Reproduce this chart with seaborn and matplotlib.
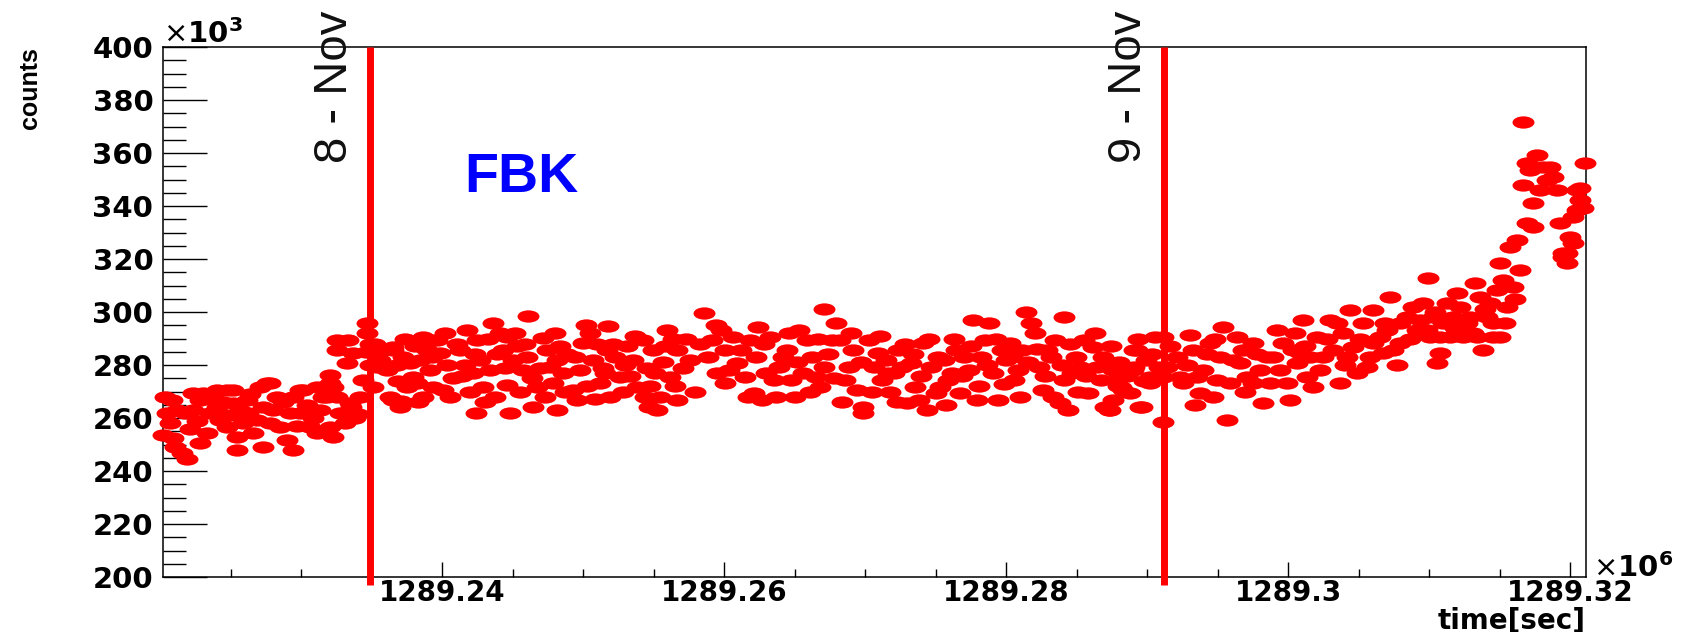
import numpy as np
import pandas as pd
import matplotlib
matplotlib.use("Agg")
import matplotlib.pyplot as plt
import seaborn as sns
from matplotlib.path import Path
from matplotlib.markers import MarkerStyle
from matplotlib.transforms import Affine2D
from matplotlib.ticker import MultipleLocator, FuncFormatter

# --- data ---
# time in ks after 1289.22e6 s, counts in units of 10^3
T0 = 1289.22  # x10^6 s

# before 8-Nov
t_before = [0.35, 0.85, 0.21, 0.92, 1.06, 1.56, 1.91, 0.50, 1.21, 2.34, 2.84, 3.05, 3.33, 2.84,
            4.04, 4.04, 4.25, 4.75, 5.18, 5.18, 5.46, 5.46, 6.17, 6.24, 6.59, 6.88, 7.30, 7.09,
            7.59, 8.01, 8.30, 8.51, 9.00, 9.43, 9.43, 9.93, 10.14, 10.64, 11.13, 11.34, 11.56,
            12.05, 12.27, 12.55, 12.27, 13.47, 13.83, 12.05, 12.55, 12.55, 13.33, 13.68, 13.26,
            14.39, 14.68, 14.68, 2.34, 4.75, 7.80, 9.93, 11.84, 11.13, 12.05, 13.54, 14.00,
            0.71, 1.77, 2.13, 2.62, 3.55, 3.76, 4.47, 4.96, 5.67, 5.88, 6.38, 7.30, 7.80, 8.72,
            9.22, 9.71, 10.42, 10.85, 12.76, 13.12, 14.18, 14.61, 14.89, 14.89]
c_before = [268.0, 266.8, 253.6, 252.4, 249.2, 246.8, 244.5, 261.9, 263.0, 263.0, 266.8, 269.4, 254.3, 250.6,
            270.6, 264.2, 259.2, 256.6, 270.6, 265.7, 252.8, 248.0, 266.8, 261.9, 254.3, 259.2, 249.2, 271.7,
            273.2, 263.0, 268.0, 256.6, 251.7, 248.0, 268.0, 261.9, 270.6, 256.6, 254.3, 263.0, 268.0,
            256.6, 252.8, 268.0, 271.7, 265.7, 259.9, 276.2, 285.7, 289.4, 289.4, 284.5, 280.8,
            274.3, 295.8, 292.0, 269.3, 270.6, 273.1, 270.6, 268.0, 271.8, 273.1, 264.0, 261.5,
            258, 262, 256, 259, 262, 268, 266, 261, 263, 258, 269, 264, 258, 266,
            262, 257, 265, 260, 262, 258, 268, 285, 280, 288]

# 8-Nov to the middle of the day
t_mid1 = [15.39, 15.10, 15.81, 16.09, 16.52, 17.02, 16.52, 17.23, 17.73, 18.65, 19.36, 18.93, 18.22,
          17.51, 18.65, 19.85, 20.06, 15.60, 16.52, 16.31, 17.09, 17.58, 17.94, 19.64, 18.43, 19.36,
          20.35, 21.27, 21.77, 22.48, 22.69, 22.19, 22.90, 23.04, 23.61, 24.11, 24.60, 24.32, 25.03,
          24.60, 24.82, 25.74, 26.09, 26.45, 26.73, 27.15, 27.44, 27.65, 27.86, 28.36, 28.57, 29.28,
          29.57, 29.99, 30.49, 30.70, 31.20, 31.76, 31.69, 31.91, 32.61, 33.11, 33.54, 33.82, 34.24,
          34.95, 35.24, 35.45, 35.95, 36.16, 36.66, 36.66,
          16.80, 18.08, 19.14, 20.77, 21.06, 21.62, 21.98, 23.40, 23.89, 25.31, 25.52, 26.02, 26.94,
          28.15, 28.86, 29.78, 30.27, 30.98, 31.41, 32.26, 32.83, 33.32, 34.53, 34.74, 35.66, 36.37,
          22.40, 28.15, 34.67,
          15.24, 16.87, 17.37, 18.29, 19.28, 20.21, 20.56, 21.41, 22.33, 23.26, 23.75, 24.46, 25.17,
          25.88, 26.37, 27.30, 28.01, 28.71, 29.42, 30.20, 30.84, 31.55, 32.12, 32.97, 33.68, 34.39,
          35.10, 35.80, 36.51]
c_mid1 = [279.3, 271.7, 285.7, 278.1, 266.8, 264.2, 286.8, 283.0, 280.8, 290.6, 289.4, 285.7, 273.2,
          271.7, 268.0, 284.5, 270.6, 281.9, 285.7, 268.0, 266.5, 273.5, 275.6, 289.5, 281.9, 271.8,
          280.0, 285.7, 293.3, 289.5, 281.9, 276.9, 271.8, 266.2, 295.8, 292.0, 290.7, 285.7, 281.9,
          272.5, 261.7, 278.1, 298.6, 264.3, 271.8, 290.1, 285.7, 279.4, 273.1, 287.0, 276.9, 270.6,
          266.8, 288.2, 292.0, 281.9, 273.1, 294.8, 285.7, 268.0, 275.6, 287.0, 281.9, 271.8, 289.5,
          285.7, 263.0, 268.0, 293.3, 275.6, 285.7, 266.8,
          280, 287, 278, 275, 288, 280, 270, 278, 284, 287, 270, 283, 279,
          282, 284, 278, 272, 288, 279, 283, 270, 276, 279, 272, 281, 290,
          262, 263, 264,
          288, 274, 290, 266, 283, 292, 268, 276, 284, 290, 268, 279, 292,
          288, 275, 268, 292, 270, 283, 295, 267, 277, 288, 280, 291, 268,
          277, 287, 272]

# middle of 8-Nov up to 9-Nov
t_mid2 = [38.57, 39.14, 39.77, 40.06, 39.49, 40.06, 40.91, 41.48, 42.40, 42.11, 42.68, 43.25, 43.53,
          44.17, 44.45, 45.02, 45.31, 45.87, 46.23, 46.51, 47.08, 47.08, 47.93, 48.21, 48.57, 49.13,
          49.42, 49.84, 49.84, 50.27, 50.91, 51.19, 51.76, 52.32, 52.61, 52.96, 53.53, 54.10, 54.38,
          54.66, 55.02, 55.59, 55.87, 56.44, 56.72, 57.36, 57.64, 57.93, 58.49, 58.78, 59.06, 59.41,
          59.98, 60.27, 60.55, 61.12, 61.40, 61.75, 62.04, 62.32, 62.60, 63.17, 63.46, 63.81, 64.09,
          64.38, 64.66, 64.94, 65.51, 65.80, 66.43, 67.00, 67.28, 67.57, 67.85, 68.13, 68.77, 69.06,
          69.62, 69.91, 70.55, 70.83, 71.11, 71.11,
          38.85, 40.63, 41.19, 41.83, 42.97, 43.89, 44.74, 45.59, 46.79, 47.64, 48.85, 50.62, 51.47,
          52.04, 53.25, 53.81, 55.30, 56.15, 57.00, 58.21, 59.70, 60.83, 62.89, 64.09, 65.23, 66.15,
          66.72, 69.06, 70.19,
          37.08, 37.29, 37.58, 37.93, 38.29, 39.42, 40.34, 41.69, 42.26, 42.82, 43.67, 44.60, 45.16,
          46.09, 46.65, 47.36, 47.79, 48.35, 48.99, 49.70, 50.48, 51.05, 51.62, 52.25, 52.82, 53.39,
          53.95, 54.52, 55.16, 55.73, 56.29, 56.86, 57.50, 58.07, 58.63, 59.27, 59.84, 60.41, 60.97,
          61.54, 62.18, 62.75, 63.31, 63.95, 64.52, 65.09, 65.65, 66.29, 66.86, 67.43, 67.99, 68.56,
          69.34, 69.77, 70.33]
c_mid2 = [299.5, 289.4, 293.2, 285.7, 276.9, 273.1, 280.6, 275.6, 294.5, 269.3, 266.8, 290.7, 274.3,
          283.2, 285.7, 268.1, 293.2, 289.4, 283.2, 275.6, 301.0, 279.4, 295.7, 289.4, 274.3, 285.7,
          270.6, 264.3, 261.8, 289.4, 284.4, 274.3, 269.9, 285.7, 279.4, 265.5, 271.8, 288.2, 263.0,
          279.4, 269.3, 281.9, 274.3, 285.7, 269.3, 278.1, 297.0, 266.8, 289.4, 295.7, 276.9, 266.8,
          281.9, 288.2, 274.3, 285.7, 300.1, 295.7, 292.0, 279.4, 270.6, 283.2, 289.4, 265.5, 298.2,
          263.0, 276.9, 283.2, 289.4, 269.3, 279.4, 264.3, 263.0, 278.1, 274.3, 271.8, 269.3, 285.7,
          264.3, 281.9, 290.7, 279.4, 275.6, 258.6,
          283.2, 290.7, 285.7, 289.4, 276.9, 279.4, 274.3, 276.9, 271.8, 289.4, 279.4, 279.4, 281.9,
          276.9, 280.6, 266.8, 271.8, 276.9, 283.2, 283.2, 285.7, 278.1, 285.7, 274.3, 279.4, 286.9,
          274.3, 279.4, 273.1,
          279, 290, 282, 270, 288, 295, 278, 268, 283, 288, 268, 292, 281,
          270, 290, 284, 275, 266, 292, 281, 270, 291, 277, 266, 288, 284,
          276, 290, 283, 265, 290, 276, 287, 272, 280, 290, 273, 283, 268,
          281, 286, 276, 268, 280, 288, 270, 276, 292, 283, 287, 281, 276,
          290, 274, 284]

# 9-Nov onwards, the rise at the end
t_after = [67.36, 67.90, 67.57, 68.28, 67.36, 69.48, 69.27, 68.99, 71.11, 71.40, 72.11, 72.53, 73.03,
           73.24, 73.74, 73.95, 74.45, 74.66, 75.15, 75.37, 75.65, 75.86, 76.36, 76.57, 77.07, 77.49,
           77.99, 78.20, 78.70, 78.91, 79.20, 79.62, 79.90, 80.12, 80.61, 80.83, 81.04, 81.32, 81.75,
           82.03, 82.46, 82.95, 83.45, 83.66, 83.87, 84.37, 84.58, 84.87, 85.29, 85.58, 86.00, 86.50,
           86.71, 87.21, 87.42, 87.92, 88.41, 88.84, 89.12, 89.33, 89.55, 89.90, 90.04, 90.26, 90.54,
           90.75, 90.96, 91.25, 91.46, 91.67, 91.96, 92.17, 92.38, 92.67, 92.88, 93.23, 93.38, 93.59,
           93.80, 94.08, 94.30, 94.51, 94.79, 95.01, 95.01, 95.22, 95.50, 95.72, 95.93, 96.21, 96.42,
           96.64, 96.92, 96.92, 96.64, 97.13, 97.35, 97.63, 97.35, 97.84, 98.05, 98.34, 98.55, 98.76,
           99.05, 99.26, 99.47, 99.76, 99.97, 100.18, 100.47, 100.68, 100.89, 101.03, 100.68, 100.18,
           100.47, 99.76, 99.47,
           70.19, 72.32, 73.53, 74.94, 76.78, 77.49, 78.49, 80.33, 81.54, 83.17, 84.16, 86.00, 86.99,
           87.92, 89.83, 90.75, 93.09, 94.51,
           71.61, 72.81, 73.38, 74.23, 74.80, 76.08, 76.93, 77.78, 79.41, 80.47, 81.18, 82.24, 82.74,
           84.02, 85.08, 85.79, 86.85, 87.70, 88.63, 90.40, 91.82, 93.94, 95.36, 96.07]
c_after = [280.6, 272.0, 266.8, 270.6, 263.0, 264.3, 285.7, 278.1, 290.7, 279.4, 283.2, 273.1, 291.3,
           285.7, 269.3, 278.1, 288.2, 268.1, 283.2, 294.5, 259.2, 273.1, 290.7, 280.6, 275.6, 288.2,
           278.1, 265.5, 273.1, 283.2, 293.2, 288.2, 273.1, 266.8, 280.6, 284.4, 297.0, 275.6, 271.8,
           290.7, 283.2, 297.0, 295.7, 273.1, 292.0, 300.7, 286.9, 276.9, 295.7, 279.4, 300.7, 290.7,
           284.4, 305.8, 285.7, 288.2, 298.2, 302.0, 293.2, 297.0, 303.3, 312.7, 290.7, 298.2, 280.6,
           284.4, 295.7, 303.3, 290.7, 298.2, 307.0, 302.0, 290.7, 295.7, 298.2, 310.8, 290.7, 305.8,
           285.7, 298.2, 303.3, 295.7, 308.3, 290.7, 318.4, 312.1, 302.0, 324.6, 309.6, 327.2, 315.8,
           371.8, 333.5, 356.1, 347.9, 353.6, 341.0, 359.3, 332.2, 346.0, 354.8, 349.8, 354.8, 351.1,
           346.0, 333.5, 322.1, 318.4, 328.4, 336.0, 346.0, 342.3, 339.1, 356.4, 346.7, 325.9,
           338.5, 322.1, 320.9,
           275.6, 275.6, 275.6, 274.3, 285.7, 273.1, 283.2, 285.7, 283.2, 285.7, 283.2, 288.2, 293.2,
           295.7, 293.2, 290.7, 292.0, 290.7,
           287, 280, 265, 284, 290, 282, 270, 284, 278, 292, 287, 278, 290,
           280, 290, 283, 296, 280, 290, 300, 294, 301, 296, 305]

day_t = [14.89, 71.18]
day_labels = ['8 - Nov', '9 - Nov']

df = pd.DataFrame({
    'time': T0 + np.array(t_before + t_mid1 + t_mid2 + t_after) / 1000.0,
    'counts': c_before + c_mid1 + c_mid2 + c_after,
})

sns.set_theme(style="white")
plt.rcParams['font.family'] = ['DejaVu Sans']
plt.rcParams['mathtext.fontset'] = 'dejavusans'

fig = plt.figure(figsize=(16.97, 6.32), dpi=100)
W, H = 1697, 632
ax = fig.add_axes([163 / W, 1 - 577 / H, (1586 - 163) / W, (577 - 47) / H])

# ROOT draws the dots as flat ellipses in this picture
ellipse = Path.unit_circle().transformed(Affine2D().scale(1.0, 0.56))
sns.scatterplot(data=df, x='time', y='counts', ax=ax, marker=MarkerStyle(ellipse),
                s=250, color='#ff0000', linewidth=0, clip_on=False, legend=False, zorder=3)

ax.set_xlim(1289.2202, 1289.3211)
ax.set_ylim(200, 400)

# day markers
for tv, lab in zip(day_t, day_labels):
    xv = T0 + tv / 1000.0
    ax.plot([xv, xv], [400, 197], color='#ff0000', lw=5, clip_on=False,
            solid_capstyle='butt', zorder=4)
    ax.text(xv - 0.00248, 356.2, lab, rotation=90, ha='center', va='bottom',
            fontsize=34, family=['Liberation Sans', 'DejaVu Sans'], color='#111111', clip_on=False)

ax.text(1289.24155, 345.3, 'FBK', color='#0000ff', fontsize=40, fontweight='bold',
        family=['Liberation Sans', 'DejaVu Sans'], ha='left', va='baseline')

# axes styling, ROOT-like
for sp in ax.spines.values():
    sp.set_visible(True)
    sp.set_color('black')
    sp.set_linewidth(1.1)

ax.xaxis.set_major_locator(MultipleLocator(0.02))
ax.xaxis.set_minor_locator(MultipleLocator(0.005))
ax.yaxis.set_major_locator(MultipleLocator(20))
ax.yaxis.set_minor_locator(MultipleLocator(5))
ax.xaxis.set_major_formatter(FuncFormatter(lambda v, p: f"{round(v, 4):g}"))
ax.yaxis.set_major_formatter(FuncFormatter(lambda v, p: f"{v:.0f}"))

ax.tick_params(axis='both', which='both', direction='in', color='black', width=1,
               bottom=True, left=True, top=False, right=False)
ax.tick_params(axis='y', which='major', length=32, pad=7, labelsize=21)
ax.tick_params(axis='y', which='minor', length=16.5)
ax.tick_params(axis='x', which='major', length=10.8, pad=1.5, labelsize=20)
ax.tick_params(axis='x', which='minor', length=5.8)
for lab in ax.get_xticklabels() + ax.get_yticklabels():
    lab.set_fontweight('bold')
    lab.set_color('black')

ax.set_xlabel('')
ax.set_ylabel('')

ax.text(0, 1 + 4 / 530, r'$\times\mathbf{10}^{\mathbf{3}}$', transform=ax.transAxes,
        ha='left', va='baseline', fontsize=21, color='black')
ax.text(1 + 7 / 1423, 0, r'$\times\mathbf{10}^{\mathbf{6}}$', transform=ax.transAxes,
        ha='left', va='baseline', fontsize=21, color='black')

fig.text(1586 / W, 1 - 629 / H, 'time[sec]', ha='right', va='baseline',
         fontsize=20, fontweight='bold', color='black')
fig.text(30 / W, 1 - 47 / H, 'counts', rotation=90, ha='center', va='top',
         fontsize=18, fontweight='bold', family=['Liberation Sans', 'DejaVu Sans'], color='black')

fig.savefig('out.png', dpi=100)
